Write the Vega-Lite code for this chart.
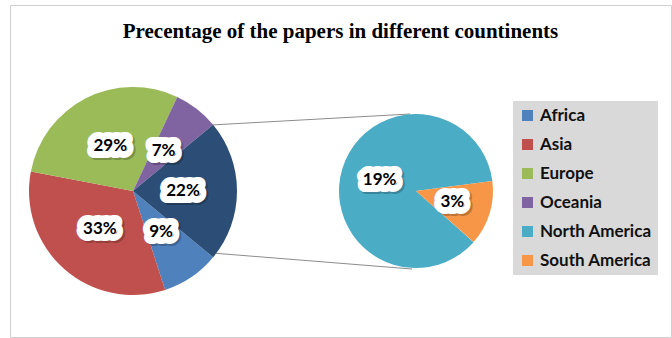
{
  "$schema": "https://vega.github.io/schema/vega-lite/v6.json",
  "width": 672,
  "height": 338,
  "autosize": {"type": "fit", "contains": "padding"},
  "padding": {"left": 10, "top": 5, "right": 1, "bottom": 1},
  "background": "white",
  "config": {
    "view": {"stroke": "#cfcfcf", "strokeWidth": 1},
    "axis": {"disable": true}
  },
  "title": {
    "text": "Precentage of the papers in different countinents",
    "font": "Liberation Serif",
    "fontSize": 21,
    "fontWeight": "bold",
    "color": "#000000",
    "anchor": "middle",
    "frame": "group",
    "offset": -37
  },
  "datasets": {
    "slices": [
      {"pie": "Main", "continent": "Africa", "share": 0.09},
      {"pie": "Main", "continent": "Asia", "share": 0.33},
      {"pie": "Main", "continent": "Europe", "share": 0.29},
      {"pie": "Main", "continent": "Oceania", "share": 0.07},
      {"pie": "Main", "continent": "Other", "share": 0.22},
      {"pie": "Sub", "continent": "North America", "share": 0.19},
      {"pie": "Sub", "continent": "South America", "share": 0.03}
    ],
    "links": [
      {"x": 201, "y": 120, "x2": 400, "y2": 109},
      {"x": 202, "y": 248, "x2": 402, "y2": 264}
    ]
  },
  "layer": [
    {
      "data": {"name": "links"},
      "mark": {"type": "rule", "color": "#8c8c8c", "strokeWidth": 1},
      "encoding": {
        "x": {"field": "x", "type": "quantitative", "scale": {"domain": [0, 661]}, "axis": null},
        "y": {"field": "y", "type": "quantitative", "scale": {"domain": [0, 332], "reverse": true}, "axis": null},
        "x2": {"field": "x2"},
        "y2": {"field": "y2"}
      }
    },
    {
      "data": {"name": "slices"},
      "transform": [{"filter": "datum.pie === 'Main'"}],
      "encoding": {
        "x": {"field": "pie", "type": "nominal", "scale": {"type": "point", "domain": ["Main", "Sub"], "range": [123, 406], "padding": 0}, "axis": null},
        "y": {"field": "pie", "type": "nominal", "scale": {"type": "point", "domain": ["Main", "Sub"], "range": [186, 186], "padding": 0}, "axis": null},
        "theta": {"field": "share", "type": "quantitative", "stack": true, "scale": {"range": [2.262, 8.545]}},
        "order": {"field": "continent", "type": "ordinal", "sort": "ascending"}
      },
      "layer": [
        {
          "mark": {"type": "arc", "radius": 104},
          "encoding": {
            "color": {
              "field": "continent",
              "type": "nominal",
              "scale": {
                "domain": ["Africa", "Asia", "Europe", "Oceania", "North America", "South America", "Other"],
                "range": ["#4f81bd", "#c0504d", "#9bbb59", "#8064a2", "#4bacc6", "#f79646", "#2c4d75"]
              },
              "legend": {
                "values": ["Africa", "Asia", "Europe", "Oceania", "North America", "South America"],
                "title": null,
                "orient": "none",
                "legendX": 503,
                "legendY": 96,
                "fillColor": "#d9d9d9",
                "padding": 6,
                "rowPadding": 11,
                "symbolType": "square",
                "symbolSize": 121,
                "symbolStrokeWidth": 0,
                "labelFont": "Lato",
                "labelFontSize": 17,
                "labelFontWeight": "bold",
                "labelColor": "#111111",
                "labelOffset": 4,
                "labelLimit": 200
              }
            }
          }
        },
        {
          "mark": {"type": "text", "radius": 50, "font": "Lato", "fontSize": 17, "fontWeight": "bold", "fill": "#000000", "stroke": "#000000", "strokeWidth": 14, "strokeJoin": "round", "opacity": 0.22, "dx": 2, "dy": 2},
          "encoding": {"text": {"field": "share", "format": ".0%"}, "detail": {"field": "continent"}}
        },
        {
          "mark": {"type": "text", "radius": 50, "font": "Lato", "fontSize": 17, "fontWeight": "bold", "fill": "#ffffff", "stroke": "#ffffff", "strokeWidth": 14, "strokeJoin": "round"},
          "encoding": {"text": {"field": "share", "format": ".0%"}, "detail": {"field": "continent"}}
        },
        {
          "mark": {"type": "text", "radius": 50, "font": "Lato", "fontSize": 17, "fontWeight": "bold", "fill": "#000000"},
          "encoding": {"text": {"field": "share", "format": ".0%"}, "detail": {"field": "continent"}}
        }
      ]
    },
    {
      "data": {"name": "slices"},
      "transform": [{"filter": "datum.pie === 'Sub'"}],
      "encoding": {
        "x": {"field": "pie", "type": "nominal", "scale": {"type": "point", "domain": ["Main", "Sub"], "range": [123, 406], "padding": 0}, "axis": null},
        "y": {"field": "pie", "type": "nominal", "scale": {"type": "point", "domain": ["Main", "Sub"], "range": [186, 186], "padding": 0}, "axis": null},
        "theta": {"field": "share", "type": "quantitative", "stack": true, "scale": {"range": [2.297, 8.580]}},
        "order": {"field": "continent", "type": "ordinal", "sort": "ascending"}
      },
      "layer": [
        {
          "mark": {"type": "arc", "radius": 77},
          "encoding": {"color": {"field": "continent", "type": "nominal"}}
        },
        {
          "mark": {"type": "text", "radius": 38, "font": "Lato", "fontSize": 17, "fontWeight": "bold", "fill": "#000000", "stroke": "#000000", "strokeWidth": 14, "strokeJoin": "round", "opacity": 0.22, "dx": 2, "dy": 2},
          "encoding": {"text": {"field": "share", "format": ".0%"}, "detail": {"field": "continent"}}
        },
        {
          "mark": {"type": "text", "radius": 38, "font": "Lato", "fontSize": 17, "fontWeight": "bold", "fill": "#ffffff", "stroke": "#ffffff", "strokeWidth": 14, "strokeJoin": "round"},
          "encoding": {"text": {"field": "share", "format": ".0%"}, "detail": {"field": "continent"}}
        },
        {
          "mark": {"type": "text", "radius": 38, "font": "Lato", "fontSize": 17, "fontWeight": "bold", "fill": "#000000"},
          "encoding": {"text": {"field": "share", "format": ".0%"}, "detail": {"field": "continent"}}
        }
      ]
    }
  ],
  "resolve": {"scale": {"theta": "independent", "x": "independent", "y": "independent"}}
}
